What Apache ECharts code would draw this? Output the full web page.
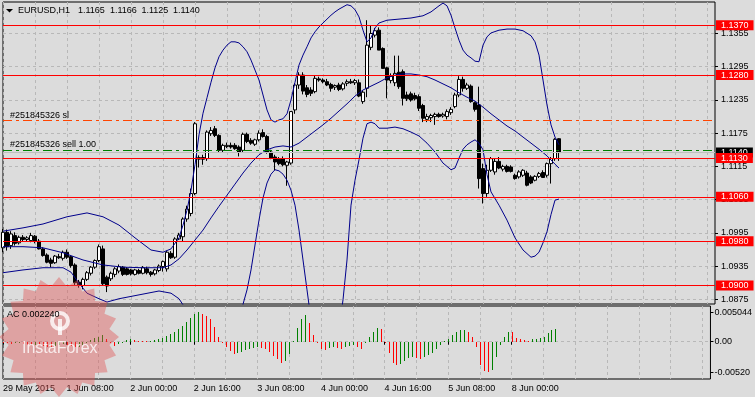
<!DOCTYPE html>
<html><head><meta charset="utf-8">
<script src="https://cdn.jsdelivr.net/npm/echarts@6/dist/echarts.min.js"></script>
<style>html,body{margin:0;padding:0;background:#dcdcdc;}#c{width:755px;height:397px;}</style>
</head><body><div id="c"></div>
<script>
// ---------- DATA ----------
const timeLabels = ['29 May 2015','1 Jun 08:00','2 Jun 00:00','2 Jun 16:00','3 Jun 08:00','4 Jun 00:00','4 Jun 16:00','5 Jun 08:00','8 Jun 00:00'];
const slotCount = 179; // hourly slots incl. empty shift area
const open = [1.0968,1.0996,1.0972,1.0990,1.0977,1.0987,1.0983,1.0981,1.0989,1.0980,1.0966,1.0955,1.0946,1.0941,1.0952,1.0949,1.0960,1.0952,1.0937,1.0906,
1.0900,1.0911,1.0922,1.0933,1.0945,1.0966,1.0915,1.0912,1.0920,1.0926,1.0933,1.0930,1.0928,1.0920,1.0927,1.0922,1.0930,1.0924,1.0921,1.0927,
1.0934,1.0930,1.0958,1.0951,1.0984,1.0988,1.1020,1.1030,1.1066,1.1128,1.1131,1.1129,1.1174,1.1183,1.1171,1.1144,1.1151,1.1153,1.1153,1.1150,
1.1144,1.1173,1.1162,1.1155,1.1163,1.1176,1.1169,1.1141,1.1132,1.1128,1.1129,1.1117,1.1121,1.1217,1.1262,1.1280,1.1257,1.1253,1.1250,1.1273,
1.1271,1.1268,1.1263,1.1258,1.1262,1.1255,1.1265,1.1268,1.1266,1.1266,1.1232,1.1256,1.1330,1.1352,1.1361,1.1328,1.1293,1.1270,1.1266,1.1285,
1.1286,1.1244,1.1246,1.1243,1.1241,1.1225,1.1200,1.1203,1.1205,1.1209,1.1206,1.1205,1.1212,1.1223,1.1244,1.1272,1.1256,1.1260,1.1230,1.1226,
1.1111,1.1066,1.1108,1.1105,1.1124,1.1110,1.1115,1.1114,1.1099,1.1096,1.1099,1.1103,1.1096,1.1090,1.1097,1.1104,1.1099,1.1120,1.1129,1.1165];
const high = [1.1002,1.1001,1.0998,1.0996,1.0990,1.0991,1.0989,1.0995,1.0991,1.0984,1.0969,1.0958,1.0950,1.0955,1.0957,1.0963,1.0965,1.0955,1.0940,1.0910,
1.0914,1.0926,1.0935,1.0947,1.0974,1.0972,1.0918,1.0925,1.0933,1.0938,1.0935,1.0933,1.0930,1.0930,1.0930,1.0935,1.0934,1.0926,1.0930,1.0938,
1.0945,1.0963,1.0962,1.0987,1.0995,1.1023,1.1044,1.1075,1.1195,1.1135,1.1136,1.1180,1.1186,1.1188,1.1173,1.1156,1.1158,1.1158,1.1157,1.1153,
1.1176,1.1176,1.1166,1.1165,1.1180,1.1182,1.1172,1.1145,1.1136,1.1132,1.1133,1.1125,1.1215,1.1265,1.1285,1.1285,1.1262,1.1258,1.1280,1.1277,
1.1274,1.1273,1.1266,1.1263,1.1266,1.1267,1.1272,1.1273,1.1273,1.1272,1.1252,1.1379,1.1370,1.1365,1.1366,1.1330,1.1295,1.1283,1.1315,1.1315,
1.1290,1.1250,1.1250,1.1248,1.1245,1.1228,1.1210,1.1210,1.1212,1.1212,1.1212,1.1218,1.1222,1.1248,1.1278,1.1277,1.1266,1.1263,1.1232,1.1259,
1.1120,1.1118,1.1132,1.1129,1.1132,1.1118,1.1118,1.1117,1.1102,1.1108,1.1110,1.1107,1.1099,1.1099,1.1105,1.1108,1.1122,1.1132,1.1166,1.1166];
const low = [1.0960,1.0963,1.0966,1.0972,1.0974,1.0979,1.0979,1.0978,1.0976,1.0965,1.0952,1.0940,1.0933,1.0939,1.0948,1.0945,1.0948,1.0932,1.0900,1.0896,
1.0893,1.0908,1.0918,1.0930,1.0942,1.0900,1.0888,1.0908,1.0915,1.0922,1.0917,1.0918,1.0918,1.0918,1.0920,1.0920,1.0920,1.0916,1.0918,1.0924,
1.0925,1.0925,1.0948,1.0948,1.0982,1.0980,1.1015,1.1025,1.1063,1.1113,1.1118,1.1125,1.1170,1.1168,1.1140,1.1140,1.1148,1.1147,1.1145,1.1133,
1.1141,1.1157,1.1154,1.1152,1.1160,1.1167,1.1138,1.1128,1.1108,1.1117,1.1115,1.1080,1.1118,1.1210,1.1255,1.1245,1.1240,1.1242,1.1247,1.1268,
1.1265,1.1260,1.1250,1.1253,1.1251,1.1252,1.1260,1.1264,1.1262,1.1240,1.1228,1.1240,1.1325,1.1348,1.1325,1.1292,1.1238,1.1265,1.1260,1.1255,
1.1225,1.1233,1.1232,1.1234,1.1215,1.1195,1.1195,1.1195,1.1190,1.1203,1.1203,1.1200,1.1208,1.1220,1.1240,1.1250,1.1253,1.1230,1.1214,1.1075,
1.1048,1.1060,1.1105,1.1100,1.1110,1.1106,1.1104,1.1104,1.1091,1.1093,1.1096,1.1079,1.1083,1.1088,1.1094,1.1094,1.1095,1.1084,1.1125,1.1125];
const close = [1.0996,1.0970,1.0993,1.0976,1.0987,1.0983,1.0986,1.0990,1.0980,1.0966,1.0954,1.0942,1.0940,1.0953,1.0950,1.0960,1.0951,1.0936,1.0905,1.0900,
1.0911,1.0923,1.0933,1.0945,1.0970,1.0903,1.0899,1.0922,1.0930,1.0934,1.0920,1.0920,1.0921,1.0928,1.0922,1.0932,1.0923,1.0920,1.0928,1.0935,
1.0943,1.0960,1.0950,1.0984,1.0991,1.1020,1.1038,1.1066,1.1192,1.1131,1.1128,1.1177,1.1180,1.1171,1.1144,1.1153,1.1153,1.1150,1.1147,1.1141,
1.1173,1.1160,1.1157,1.1163,1.1175,1.1169,1.1141,1.1130,1.1123,1.1120,1.1118,1.1123,1.1214,1.1262,1.1280,1.1251,1.1245,1.1247,1.1274,1.1271,
1.1268,1.1262,1.1256,1.1261,1.1254,1.1264,1.1268,1.1266,1.1270,1.1242,1.1249,1.1334,1.1355,1.1360,1.1325,1.1292,1.1271,1.1278,1.1283,1.1259,
1.1238,1.1237,1.1235,1.1237,1.1220,1.1202,1.1205,1.1207,1.1209,1.1205,1.1209,1.1214,1.1218,1.1244,1.1272,1.1256,1.1262,1.1232,1.1218,1.1093,
1.1066,1.1108,1.1129,1.1124,1.1112,1.1115,1.1106,1.1106,1.1093,1.1105,1.1108,1.1081,1.1085,1.1097,1.1102,1.1095,1.1120,1.1129,1.1164,1.1140];
// Bollinger bands: [bar index, price]
const bbUpper = [[0,1.0998],[5,1.1004],[10,1.1011],[16,1.1024],[21,1.1031],[25,1.1024],[29,1.1009],[33,1.0986],[37,1.0964],[40,1.0960],[42,1.0966],[44,1.0986],
[45,1.1009],[46,1.1036],[47,1.1072],[48,1.1118],[49,1.1172],[50,1.1211],[51,1.1239],[52,1.1267],[53,1.1293],[54,1.1313],[55,1.1325],[56,1.1334],[57,1.1340],
[58,1.1340],[59,1.1338],[60,1.1331],[61,1.1322],[62,1.1307],[63,1.1289],[64,1.1271],[65,1.1244],[66,1.1217],[67,1.1199],[68,1.1195],[69,1.1199],[70,1.1201],
[71,1.1210],[72,1.1235],[73,1.1267],[74,1.1298],[75,1.1316],[76,1.1331],[77,1.1347],[78,1.1358],[79,1.1367],[80,1.1374],[81,1.1381],[82,1.1388],[83,1.1394],
[84,1.1399],[85,1.1403],[86,1.1407],[87,1.1405],[88,1.1398],[89,1.1385],[90,1.1361],[91,1.1340],[92,1.1347],[93,1.1365],[94,1.1374],[96,1.1379],[99,1.1381],
[102,1.1383],[105,1.1387],[107,1.1394],[109,1.1405],[110,1.1410],[111,1.1405],[112,1.1388],[113,1.1365],[114,1.1343],[115,1.1325],[116,1.1316],[117,1.1311],
[118,1.1305],[119,1.1304],[120,1.1334],[121,1.1349],[122,1.1356],[124,1.1361],[126,1.1363],[128,1.1363],[130,1.1360],[132,1.1351],[133,1.1340],[134,1.1316],
[135,1.1271],[136,1.1226],[137,1.1190],[138,1.1168],[139,1.1154]];
const bbMiddle = [[0,1.0970],[5,1.0970],[10,1.0968],[15,1.0959],[20,1.0946],[25,1.0937],[30,1.0933],[35,1.0932],[40,1.0932],[42,1.0937],[44,1.0948],[46,1.0964],
[48,1.0982],[50,1.1000],[52,1.1022],[54,1.1043],[56,1.1063],[58,1.1083],[60,1.1103],[62,1.1121],[64,1.1136],[66,1.1145],[68,1.1150],[70,1.1152],[72,1.1150],
[74,1.1157],[76,1.1168],[78,1.1179],[80,1.1190],[82,1.1202],[84,1.1215],[86,1.1228],[88,1.1242],[90,1.1253],[92,1.1260],[94,1.1267],[96,1.1275],[98,1.1280],
[100,1.1282],[102,1.1282],[104,1.1280],[106,1.1277],[108,1.1271],[110,1.1264],[112,1.1257],[114,1.1248],[116,1.1240],[118,1.1233],[120,1.1222],[122,1.1210],
[124,1.1199],[126,1.1188],[128,1.1179],[130,1.1168],[132,1.1157],[134,1.1146],[136,1.1134],[138,1.1119],[139,1.1112]];
// null marks where the band leaves the visible price range
const bbLower = [[0,1.0923],[5,1.0928],[10,1.0932],[15,1.0932],[17,1.0924],[19,1.0904],[21,1.0886],[24,1.0876],[26,1.0870],[29,1.0876],[34,1.0883],[39,1.0890],
[42,1.0886],[44,1.0876],[45,1.0865],[46,1.0820],null,
[59,1.0820],[60,1.0866],[61,1.0892],[62,1.0928],[63,1.0973],[64,1.1018],[65,1.1058],[66,1.1085],[67,1.1101],[68,1.1109],[69,1.1107],[70,1.1101],[71,1.1090],
[72,1.1072],[73,1.1045],[74,1.1000],[75,1.0946],[76,1.0892],[77,1.0838],null,
[84,1.0820],[85,1.0874],[86,1.0946],[87,1.1045],[88,1.1090],[89,1.1127],[90,1.1166],[91,1.1192],[92,1.1195],[93,1.1192],[94,1.1184],[96,1.1184],[98,1.1186],
[100,1.1183],[102,1.1177],[104,1.1170],[106,1.1157],[108,1.1141],[110,1.1121],[112,1.1109],[113,1.1112],[114,1.1130],[115,1.1146],[116,1.1154],[117,1.1159],
[118,1.1163],[119,1.1157],[120,1.1145],[121,1.1100],[122,1.1069],[124,1.1045],[126,1.1018],[128,1.0986],[130,1.0964],[132,1.0951],[133,1.0953],[134,1.0960],
[135,1.0977],[136,1.0997],[137,1.1028],[138,1.1054],[139,1.1056]];
const acValues = [-0.00017,-0.00028,-0.00040,-0.00028,-0.00023,-0.00040,-0.00057,-0.00063,-0.00051,-0.00063,-0.00074,-0.00085,-0.00097,-0.00074,-0.00063,-0.00040,-0.00051,-0.00074,-0.00097,-0.00085,
-0.00057,-0.00017,0.00028,0.00068,0.00085,0.00119,0.00051,-0.00011,-0.00074,-0.00040,-0.00017,0.00023,0.00040,0.00028,0.00017,0.00011,0.00006,0.00011,0.00023,0.00040,
0.00063,0.00097,0.00137,0.00171,0.00216,0.00267,0.00336,0.00410,0.00465,0.005044,0.00470,0.00440,0.00393,0.00256,0.00074,-0.00006,-0.00097,-0.00165,-0.00211,-0.00188,
-0.00171,-0.00148,-0.00131,-0.00114,-0.00097,-0.00102,-0.00119,-0.00171,-0.00239,-0.00302,-0.00358,-0.00330,-0.00211,0.00011,0.00228,0.00381,0.00455,0.00324,0.00114,-0.00017,
-0.00119,-0.00142,-0.00102,-0.00091,-0.00114,-0.00131,-0.00091,-0.00068,-0.00051,-0.00097,-0.00119,-0.00017,0.00074,0.00171,0.00228,0.00211,-0.00006,-0.00188,-0.00358,-0.00398,
-0.00381,-0.00336,-0.00285,-0.00256,-0.00285,-0.00296,-0.00256,-0.00228,-0.00188,-0.00131,-0.00063,0.00011,0.00046,0.00108,0.00159,0.00199,0.00205,0.00171,0.00074,-0.00097,
-0.00398,-0.00500,-0.00520,-0.00490,-0.00267,-0.00057,0.00085,0.00171,0.00165,0.00057,0.00040,0.00028,0.00017,0.00040,0.00051,0.00057,0.00085,0.00142,0.00199,0.00224];
const redLevels = [1.1370, 1.1280, 1.1130, 1.1060, 1.0980, 1.0900];
const slLevel = 1.1199, sellLevel = 1.1145, bidLevel = 1.1140;
const priceTicks = [1.0875, 1.0935, 1.0995, 1.1055, 1.1115, 1.1175, 1.1235, 1.1295, 1.1355];
const acTicks = [-0.0052, 0, 0.005044];
const acTickLabels = ['-0.00520', '0.00', '0.005044'];
const headerParts = ['EURUSD,H1', '1.1165', '1.1166', '1.1125', '1.1140'];
const acHeader = 'AC 0.002240';
const slText = '#251845326 sl', sellText = '#251845326 sell 1.00';

// ---------- BUILD ----------
const FONT = '"Liberation Sans", Arial, sans-serif';
const F9 = '9px "Liberation Sans", Arial, sans-serif';
const UP = '#008000', DOWN = '#ff0000';
const slots = Array.from({length: slotCount}, (_, i) => i);
const candleData = open.map((o, i) => [o, close[i], low[i], high[i]]);
const acUp = acValues.map((v, i) => i > 0 && v > acValues[i - 1]);
function segments(arr) { const out = [[]]; arr.forEach(p => { if (p === null) out.push([]); else out[out.length - 1].push(p); }); return out; }
const gridLine = {show: true, lineStyle: {color: '#b8b8b8', type: [3, 3], width: 1}};
const boxLabel = (txt, bg) => ({show: true, position: 'end', formatter: txt, backgroundColor: bg, color: '#fff', fontSize: 9, fontFamily: FONT, lineHeight: 10, padding: [0, 5, 0, 5], distance: 1});
const markData = [
  {yAxis: bidLevel, lineStyle: {color: '#c0c0c0', type: 'solid', width: 1}, label: boxLabel(bidLevel.toFixed(4), '#000')},
  {yAxis: slLevel, lineStyle: {color: '#ff4500', type: [9, 4, 3, 4], width: 1}, label: {show: true, position: 'insideStartTop', formatter: slText, color: '#000', fontSize: 9, fontFamily: FONT, distance: [7, 0]}},
  {yAxis: sellLevel, lineStyle: {color: '#008000', type: [9, 4, 3, 4], width: 1}, label: {show: true, position: 'insideStartTop', formatter: sellText, color: '#000', fontSize: 9, fontFamily: FONT, distance: [7, 1]}}
].concat(redLevels.map(v => ({yAxis: v, lineStyle: {color: '#ff0000', type: 'solid', width: 1}, label: boxLabel(v.toFixed(4), '#ff0000')})));
const bandSeries = [];
[[bbUpper], [bbMiddle], segments(bbLower)].forEach(group => group.forEach(seg => bandSeries.push({
  type: 'line', xAxisIndex: 0, yAxisIndex: 0, data: seg, showSymbol: false, symbol: 'none', silent: true, z: 4, clip: true,
  lineStyle: {color: '#00008b', width: 1}
})));
const acUpData = acValues.map((v, i) => acUp[i] ? [i, v] : [i, null]);
const acDownData = acValues.map((v, i) => acUp[i] ? [i, null] : [i, v]);
const acSeries = (data, color) => ({type: 'custom', xAxisIndex: 1, yAxisIndex: 1, data: data, silent: true, z: 5, clip: true,
  renderItem: (params, api) => {
    const v = api.value(1);
    if (v === null || isNaN(v)) return null;
    const p0 = api.coord([api.value(0), 0]);
    const p1 = api.coord([api.value(0), v]);
    const x = Math.round(p0[0]);
    const y0 = Math.round(p0[1]), y1 = Math.round(p1[1]);
    return {type: 'rect', shape: {x: x, y: Math.min(y0, y1), width: 1, height: Math.max(1, Math.abs(y1 - y0))}, style: {fill: color, opacity: 1}};
  }});
// watermark star shape
const star = []; const cx = 59, cy = 337, R = 60, r = 51, n = 20;
for (let k = 0; k < n * 2; k++) { const a = Math.PI * k / n - Math.PI / 2; const rr = k % 2 ? r : R; star.push([cx + rr * Math.cos(a), cy + rr * Math.sin(a)]); }
const headerX = [18, 78, 110, 141.5, 173];

const chart = echarts.init(document.getElementById('c'));
chart.setOption({
  animation: false,
  backgroundColor: '#dcdcdc',
  textStyle: {fontFamily: FONT},
  grid: [
    {left: 3, right: 40, top: 2, height: 302, show: true, borderColor: '#000', borderWidth: 1, backgroundColor: 'transparent'},
    {left: 3, right: 40, top: 306, height: 73, show: true, borderColor: '#000', borderWidth: 1, backgroundColor: 'transparent'}
  ],
  xAxis: [
    {type: 'category', gridIndex: 0, data: slots, boundaryGap: false, axisLine: {show: false}, axisTick: {show: false}, axisLabel: {show: false},
     splitLine: Object.assign({interval: (i) => i % 8 === 0}, gridLine)},
    {type: 'category', gridIndex: 1, data: slots, boundaryGap: false, axisLine: {show: false},
     axisTick: {show: true, length: 3, interval: (i) => i % 16 === 0 && i / 16 < timeLabels.length, lineStyle: {color: '#000'}},
     axisLabel: {show: true, interval: (i) => i % 16 === 0 && i / 16 < timeLabels.length, formatter: (v, i) => timeLabels[i / 16] || '', align: 'left', margin: 5, fontSize: 9, color: '#000', fontFamily: FONT},
     splitLine: Object.assign({interval: (i) => i % 8 === 0}, gridLine)}
  ],
  yAxis: [
    {type: 'value', gridIndex: 0, position: 'right', min: 1.08665, max: 1.14119, axisLine: {show: false},
     axisTick: {show: true, length: 3, customValues: priceTicks, lineStyle: {color: '#000'}},
     axisLabel: {customValues: priceTicks, formatter: (v) => v.toFixed(4), fontSize: 9, color: '#000', margin: 6, fontFamily: FONT},
     splitLine: gridLine},
    {type: 'value', gridIndex: 1, position: 'right', min: -0.006368, max: 0.006095, axisLine: {show: false},
     axisTick: {show: true, length: 3, customValues: acTicks, lineStyle: {color: '#000'}},
     axisLabel: {customValues: acTicks, formatter: (v) => { const k = acTicks.findIndex(t => Math.abs(t - v) < 1e-9); return k >= 0 ? acTickLabels[k] : ''; }, fontSize: 9, color: '#000', margin: 4, fontFamily: FONT},
     splitLine: {show: false}}
  ],
  series: [
    {type: 'line', xAxisIndex: 0, yAxisIndex: 0, data: [], silent: true, z: 2,
     markLine: {symbol: 'none', silent: true, animation: false, precision: 4, data: markData}},
    {type: 'candlestick', xAxisIndex: 0, yAxisIndex: 0, data: candleData, barWidth: 3, z: 3, silent: true, clip: true,
     itemStyle: {color: '#ffffff', color0: '#000000', borderColor: '#000000', borderColor0: '#000000', borderWidth: 1}},
    ...bandSeries,
    {type: 'line', xAxisIndex: 1, yAxisIndex: 1, data: [], silent: true, z: 2,
     markLine: {symbol: 'none', silent: true, label: {show: false}, data: [{yAxis: 0, lineStyle: {color: '#b8b8b8', type: [3, 3], width: 1}}]}},
    acSeries(acUpData, UP),
    acSeries(acDownData, DOWN)
  ],
  graphic: [
    {type: 'polygon', z: 10, silent: true, shape: {points: star}, style: {fill: 'rgba(225,80,80,0.42)'}},
    {type: 'circle', z: 11, silent: true, shape: {cx: 60, cy: 321, r: 8}, style: {fill: 'none', stroke: 'rgba(255,255,255,0.8)', lineWidth: 4}},
    {type: 'rect', z: 11, silent: true, shape: {x: 58, y: 319, width: 4, height: 16}, style: {fill: 'rgba(255,255,255,0.8)'}},
    {type: 'text', z: 11, silent: true, style: {text: 'InstaForex', x: 22, y: 349, verticalAlign: 'middle', fill: 'rgba(255,255,255,0.8)', font: '16px "Liberation Sans", Arial, sans-serif'}},
    {type: 'polygon', z: 12, silent: true, shape: {points: [[6, 9], [13, 9], [9.5, 12.5]]}, style: {fill: '#000'}},
    ...headerParts.map((t, k) => ({type: 'text', z: 12, silent: true, style: {text: t, x: headerX[k], y: 11, verticalAlign: 'middle', fill: '#000', font: F9}})),
    {type: 'text', z: 12, silent: true, style: {text: acHeader, x: 7, y: 315, verticalAlign: 'middle', fill: '#000', font: F9}}
  ]
});
</script></body></html>
